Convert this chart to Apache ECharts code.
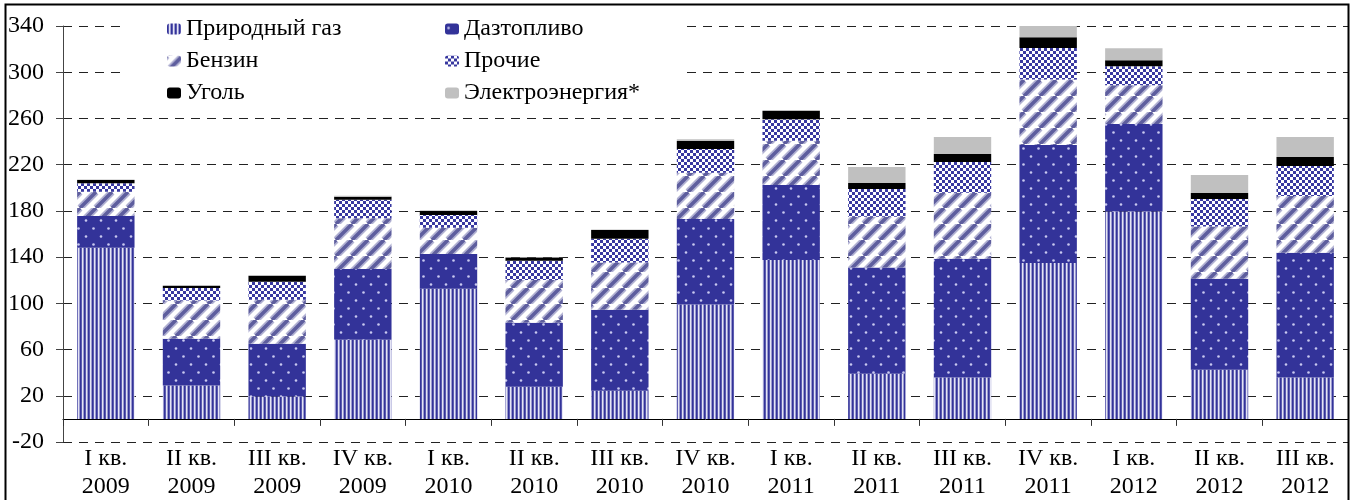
<!DOCTYPE html>
<html>
<head>
<meta charset="utf-8">
<script src="https://cdn.jsdelivr.net/npm/echarts@6/dist/echarts.min.js"></script>
<style>
  html, body { margin: 0; padding: 0; background: #fff; }
  #chart { width: 1354px; height: 500px; }
</style>
</head>
<body>
<div id="chart"></div>
<script>
const categories = [
  'I кв.\n2009', 'II кв.\n2009', 'III кв.\n2009', 'IV кв.\n2009',
  'I кв.\n2010', 'II кв.\n2010', 'III кв.\n2010', 'IV кв.\n2010',
  'I кв.\n2011', 'II кв.\n2011', 'III кв.\n2011', 'IV кв.\n2011',
  'I кв.\n2012', 'II кв.\n2012', 'III кв.\n2012'
]
const gas =    [148, 28.8, 19.3, 68.5, 112.6, 27.9, 24.4, 99, 137.6, 39.1, 35.9, 135, 179.4, 42.6, 35.9]
const diesel = [27.6, 40.6, 45.7, 61.3, 30.2, 55.3, 70, 74, 64.8, 91.9, 102.6, 102, 75.7, 78.6, 107.8]
const petrol = [21, 33.1, 38, 43.8, 22.7, 37.1, 40.9, 40.1, 38.3, 44, 57.3, 56.7, 33.7, 45.2, 49.2]
const other =  [7.3, 10.7, 15.6, 16.1, 11, 16.5, 20.5, 20.4, 18.7, 24, 26.5, 27.3, 16.4, 23.9, 25.9]
const coal =   [2.8, 2, 5.2, 2.6, 3.5, 2.8, 7.7, 6.9, 7, 5.1, 6.9, 9.3, 5.2, 5.2, 7.8]
const power =  [0.5, 0.3, 0.3, 0.9, 0.5, 0.3, 0.3, 1.7, 0.8, 13.9, 14.7, 13.2, 10.4, 15.5, 17.3]

const yTicks = [-20, 20, 60, 100, 140, 180, 220, 260, 300, 340]

const FONT = 'Liberation Serif'

function tile(w, h, draw) {
  const c = document.createElement('canvas')
  c.width = w
  c.height = h
  draw(c.getContext('2d'))
  return { image: c, repeat: 'repeat' }
}

const stripes = tile(4, 4, ctx => {
  const cols = ['#333399', '#5c5cb0', '#e4e4f4', '#9a9ad0']
  cols.forEach((col, i) => { ctx.fillStyle = col; ctx.fillRect(i, 0, 1, 4) })
})

const dots = tile(15, 16, ctx => {
  ctx.fillStyle = '#333399'
  ctx.fillRect(0, 0, 15, 16)
  ctx.fillStyle = '#c8c8f0'
  ctx.beginPath(); ctx.arc(3.5, 4.5, 1.3, 0, Math.PI * 2); ctx.fill()
  ctx.beginPath(); ctx.arc(11, 12.5, 1.3, 0, Math.PI * 2); ctx.fill()
})

const diagonal = tile(16, 16, ctx => {
  ctx.fillStyle = '#fff'
  ctx.fillRect(0, 0, 16, 16)
  const line = (w, col) => {
    ctx.strokeStyle = col
    ctx.lineWidth = w
    ctx.beginPath()
    for (let k = -1; k <= 1; k++) {
      ctx.moveTo(k * 16, 16)
      ctx.lineTo(k * 16 + 16, 0)
    }
    ctx.stroke()
  }
  line(7, '#b0b0d2')
  line(3.6, '#5e5e9e')
})

const checker = tile(6, 6, ctx => {
  ctx.fillStyle = '#fff'
  ctx.fillRect(0, 0, 6, 6)
  ctx.fillStyle = '#3838a0'
  ctx.fillRect(0, 0, 3, 3)
  ctx.fillRect(3, 3, 3, 3)
})

function bar(name, data, color) {
  return {
    name,
    type: 'bar',
    stack: 'total',
    yAxisIndex: 0,
    barCategoryGap: '33%',
    data,
    itemStyle: { color },
    emphasis: { disabled: true }
  }
}

const chart = echarts.init(document.getElementById('chart'))

chart.setOption({
  animation: false,
  textStyle: { fontFamily: FONT },
  grid: { left: 63, right: 6, top: 26, bottom: 58, containLabel: false, outerBoundsMode: 'none' },
  legend: {
    left: 125,
    top: 11,
    width: 520,
    padding: [6, 20, 8, 42],
    backgroundColor: '#fff',
    itemWidth: 14,
    itemHeight: 11,
    itemGap: 8,
    z: 10,
    textStyle: { fontFamily: FONT, fontSize: 24, color: '#000', lineHeight: 23 },
    data: [
      { name: 'Природный газ', textStyle: { width: 251 } },
      { name: 'Дазтопливо', textStyle: { width: 200 } },
      { name: 'Бензин', textStyle: { width: 251 } },
      { name: 'Прочие', textStyle: { width: 200 } },
      { name: 'Уголь', textStyle: { width: 251 } },
      { name: 'Электроэнергия*', textStyle: { width: 200 } }
    ]
  },
  xAxis: {
    type: 'category',
    data: categories,
    axisLine: { onZero: true, onZeroAxisIndex: 0, lineStyle: { color: '#000', width: 1 } },
    axisTick: { show: true, length: 7, lineStyle: { color: '#333' } },
    axisLabel: {
      interval: 0,
      margin: 3,
      fontFamily: FONT,
      fontSize: 24,
      lineHeight: 28,
      color: '#000'
    },
    splitLine: { show: false }
  },
  yAxis: [
    {
      type: 'value',
      show: false,
      position: 'left',
      min: -20,
      max: 340
    },
    {
      // display axis: 0..360 maps onto -20..340
      type: 'value',
      position: 'left',
      min: yTicks[0] + 20,
      max: yTicks[yTicks.length - 1] + 20,
      interval: 40,
      axisLine: { show: true, lineStyle: { color: '#444', width: 1 } },
      axisTick: { show: true, length: 7, lineStyle: { color: '#444' } },
      axisLabel: {
        margin: 19,
        fontFamily: FONT,
        fontSize: 24,
        color: '#000',
        formatter: v => String(v - 20)
      },
      splitLine: { show: true, lineStyle: { color: '#222', type: [9, 7], width: 1 } }
    }
  ],
  graphic: [{
    type: 'rect',
    shape: { x: 5.5, y: 4.5, width: 1343, height: 600 },
    style: { fill: null, stroke: '#000', lineWidth: 2 },
    silent: true,
    z: 100
  }],
  series: [
    bar('Природный газ', gas, stripes),
    bar('Дазтопливо', diesel, dots),
    bar('Бензин', petrol, diagonal),
    bar('Прочие', other, checker),
    bar('Уголь', coal, '#000'),
    bar('Электроэнергия*', power, '#c0c0c0')
  ]
})
</script>
</body>
</html>
